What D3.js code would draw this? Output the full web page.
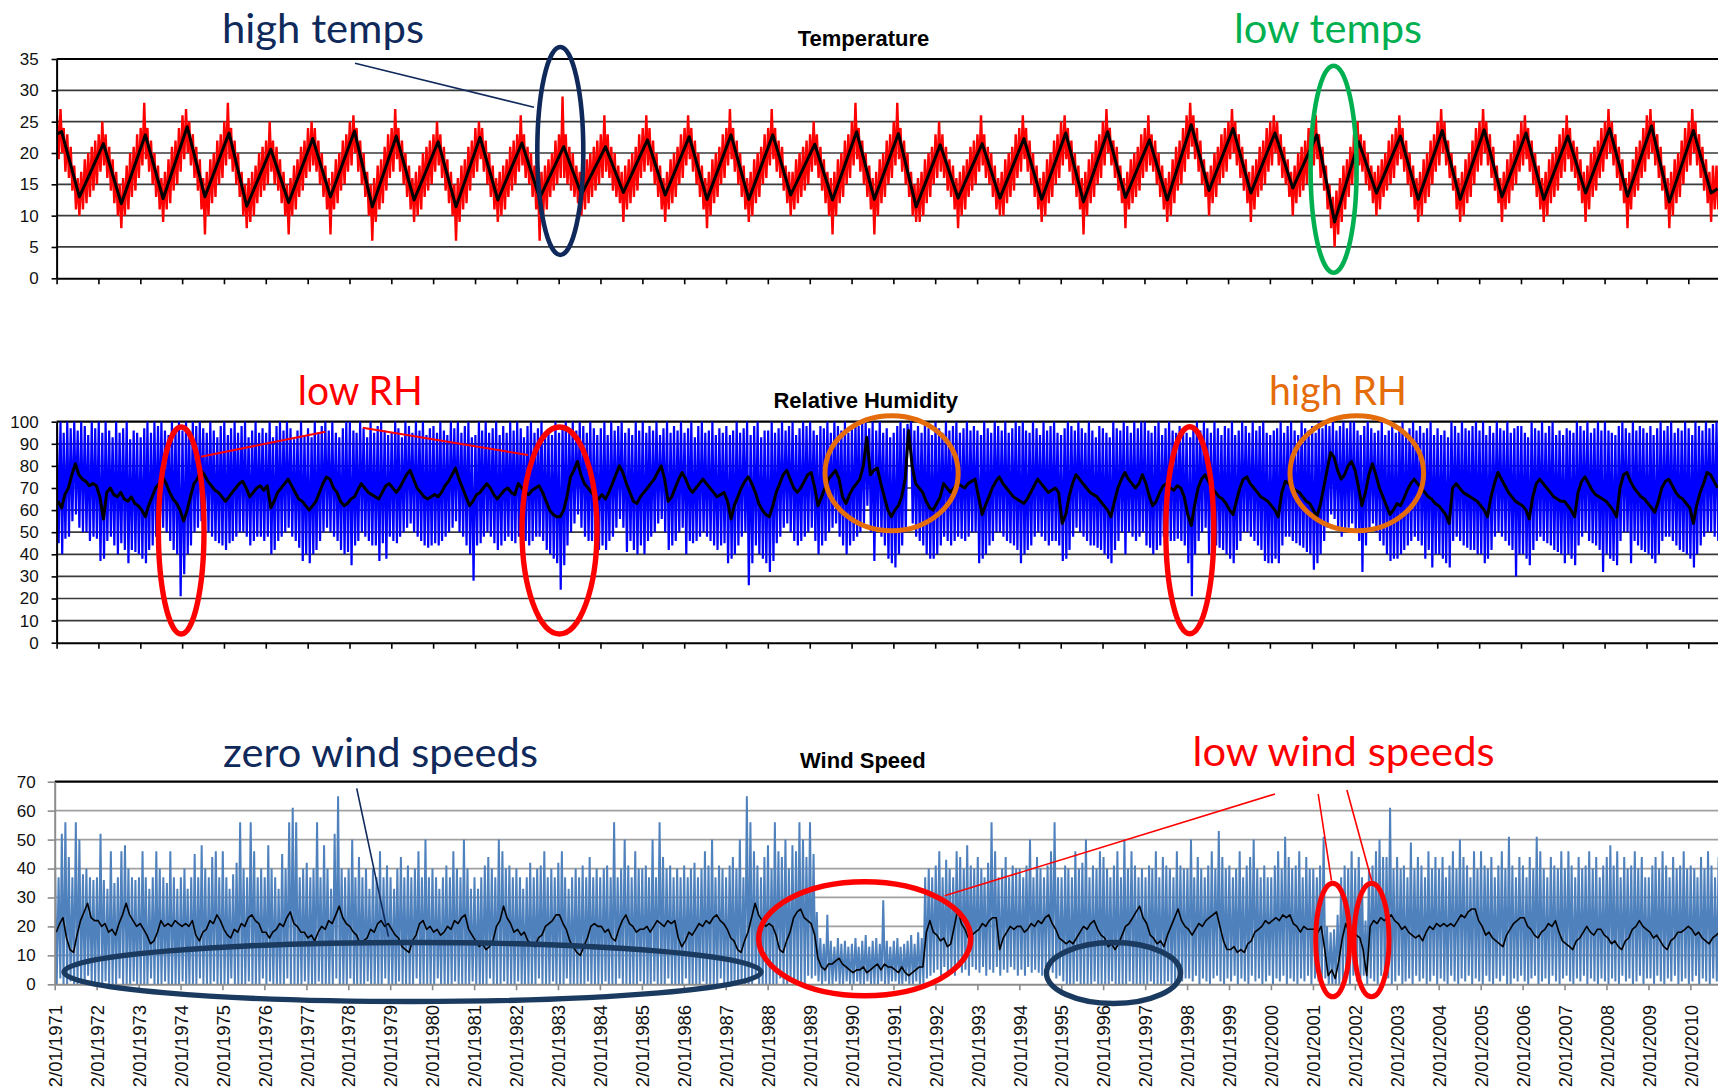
<!DOCTYPE html>
<html>
<head>
<meta charset="utf-8">
<script src="https://cdn.jsdelivr.net/npm/d3@7/dist/d3.min.js"></script>
<style>
html,body{margin:0;padding:0;background:#fff;overflow:hidden}
svg{display:block}
</style>
</head>
<body>
<svg id="chart" width="1718" height="1090"></svg>
<script>
// ================= DATA =================
const tickLabels = ["2/01/1971","2/01/1972","2/01/1973","2/01/1974","2/01/1975","2/01/1976","2/01/1977","2/01/1978","2/01/1979","2/01/1980",
"2/01/1981","2/01/1982","2/01/1983","2/01/1984","2/01/1985","2/01/1986","2/01/1987","2/01/1988","2/01/1989","2/01/1990",
"2/01/1991","2/01/1992","2/01/1993","2/01/1994","2/01/1995","2/01/1996","2/01/1997","2/01/1998","2/01/1999","2/01/2000",
"2/01/2001","2/01/2002","2/01/2003","2/01/2004","2/01/2005","2/01/2006","2/01/2007","2/01/2008","2/01/2009","2/01/2010"];
const tempTicks = [0,5,10,15,20,25,30,35];
const rhTicks = [0,10,20,30,40,50,60,70,80,90,100];
const windTicks = [0,10,20,30,40,50,60,70];

// Temperature 30-day mean: start value, yearly summer peak (Feb), winter trough (Jul), end value
const tempStart = 23.0, tempEnd = 14.3;
const tempPeak = [23.4,21.5,22.9,24.2,23.2,20.6,22.3,23.5,22.7,21.8,22.5,21.6,21.0,21.0,22.1,22.6,22.9,22.9,21.4,23.4,
23.1,21.3,21.5,22.3,23.2,23.4,22.1,24.5,23.9,23.2,22.9,21.8,22.7,23.6,23.7,23.2,22.7,23.9,24.3,23.6];
const tempTrough = [13.0,11.9,12.7,13.0,11.5,12.1,13.0,11.4,12.5,11.4,12.5,12.8,13.4,13.7,13.3,12.6,12.6,13.3,12.5,12.6,
11.4,12.8,12.8,12.6,12.2,12.9,12.5,14.0,13.6,14.4,9.0,13.6,12.6,12.6,13.0,12.6,13.6,13.1,12.2,13.6];
// Daily temperature: monthly high / low (Jan 1971 .. Sep 2010)
const tempHi = [
26,27,24,23,21,18,16,17,19,20,21,22, 23,25,23,21,19,17,15,16,18,20,21,23, 24,28,24,22,20,18,16,17,19,21,22,24,
26,27,25,23,21,19,16,17,19,20,22,23, 25,28,24,22,20,17,15,16,17,18,20,21, 22,25,22,21,19,17,15,16,18,19,21,22,
24,25,24,22,20,18,16,17,19,20,22,23, 25,26,24,22,20,17,15,16,18,19,21,23, 24,27,24,22,20,18,16,17,18,20,21,22,
23,25,23,21,19,17,15,16,18,19,21,22, 24,25,24,22,20,18,16,17,18,19,21,22, 23,26,23,21,20,18,16,17,18,19,20,22,
23,29,23,21,20,18,17,17,19,20,21,22, 23,26,23,21,20,18,17,18,19,20,21,23, 24,26,24,22,20,18,16,17,19,20,21,23,
24,26,24,22,20,18,16,17,19,20,21,23, 24,27,24,22,20,18,16,17,19,20,21,23, 24,27,24,22,21,18,17,17,19,20,21,22,
23,25,23,21,19,17,16,17,19,20,22,23, 25,28,24,22,20,18,16,17,19,20,22,23, 25,28,24,22,20,17,15,16,17,19,20,21,
23,25,23,21,19,18,16,17,18,19,21,22, 23,26,23,21,20,18,16,17,19,20,21,23, 24,26,24,22,20,18,16,17,19,20,22,23,
25,26,24,22,20,18,16,17,19,20,22,23, 25,27,24,22,21,18,16,17,19,20,21,23, 24,26,23,22,20,18,16,17,19,21,22,24,
26,28,26,24,22,19,17,18,20,21,23,24, 25,27,25,23,21,19,17,18,19,21,22,24, 25,26,25,23,21,19,17,18,20,21,22,24,
24,26,23,21,18,15,13,14,16,18,19,21, 23,25,23,22,20,18,17,18,19,20,22,23, 24,26,24,22,20,18,16,17,19,20,22,23,
25,27,25,22,20,18,16,17,19,20,22,24, 25,27,25,23,21,18,16,17,19,20,22,23, 25,26,24,22,20,18,16,17,19,20,21,23,
24,26,24,22,21,19,17,18,20,21,22,24, 25,27,25,23,21,19,16,17,19,21,22,24, 26,27,25,23,21,18,16,17,19,20,22,24,
25,27,25,23,21,19,17,18,18];
const tempLo = [
19,20,17,16,14,11,10,11,12,13,14,15, 17,18,16,14,12,10,8,10,11,13,14,16, 18,19,17,15,13,11,9,11,12,14,15,17,
19,20,18,16,14,11,7,10,12,13,15,16, 18,19,17,15,13,10,8,9,10,12,13,14, 15,17,15,14,12,10,7,10,11,13,14,16,
17,18,17,15,13,11,7,11,12,14,15,17, 18,20,17,15,13,10,6,9,11,12,14,16, 17,19,17,15,13,11,9,10,11,13,14,15,
17,18,16,14,12,10,6,9,11,12,14,16, 17,19,17,15,13,11,9,10,11,13,14,15, 17,18,16,15,13,11,6,10,11,13,14,15,
16,16,15,14,13,12,10,11,12,13,14,15, 16,17,16,14,13,12,9,11,12,13,14,16, 17,18,17,15,13,11,9,11,12,13,15,16,
18,19,17,15,13,11,8,10,12,13,15,16, 18,19,17,15,13,11,9,10,12,13,15,16, 18,19,17,16,14,12,10,11,12,13,14,15,
17,18,16,14,12,10,7,10,12,13,15,16, 18,19,17,15,13,11,7,10,12,13,15,16, 18,19,17,15,13,10,9,9,10,12,13,15,
16,17,16,14,13,11,8,10,11,13,14,15, 17,18,16,15,13,11,10,10,12,13,14,16, 17,19,17,15,13,11,9,10,12,13,15,16,
18,19,17,15,13,11,7,10,12,13,15,16, 18,20,18,16,14,12,8,11,12,13,14,16, 17,18,17,15,13,11,9,10,12,14,15,17,
19,21,19,17,15,13,10,12,13,15,16,17, 19,20,18,16,14,12,9,11,13,14,15,17, 18,20,18,16,15,13,10,12,13,14,15,17,
18,19,16,14,11,8,5,7,9,11,13,15, 16,18,17,15,14,12,10,11,13,14,15,16, 18,19,17,15,13,11,9,10,12,13,15,17,
18,20,18,16,14,11,9,10,12,13,15,17, 18,20,18,16,14,12,9,11,12,14,15,17, 18,19,17,15,13,11,9,10,12,13,14,16,
17,19,17,16,14,12,9,11,13,14,16,17, 19,20,18,16,14,12,8,11,13,14,16,17, 19,20,18,16,14,11,8,10,12,13,15,17,
18,20,18,16,14,12,9,11,11];

// Relative humidity: monthly 30-day mean, monthly high, monthly low
const rhMean = [
64,61,67,70,76,81,76,74,73,71,72,71, 66,56,68,70,67,66,68,65,64,66,63,62, 60,57,62,66,70,72,75,72,68,65,63,60,
55,60,66,72,74,78,76,73,71,69,68,66, 64,66,68,70,72,73,70,66,68,70,71,69, 71,61,64,68,70,72,74,71,68,65,64,62,
60,62,64,68,72,75,74,70,68,64,62,63, 65,66,69,72,70,68,67,66,65,68,71,72, 70,68,70,73,76,78,74,70,68,66,65,66,
67,66,68,71,73,76,79,74,70,66,62,64, 67,68,70,72,70,67,65,67,69,70,68,67, 72,70,68,67,69,70,71,68,64,60,58,57,
57,60,66,75,78,82,76,72,70,68,66,65, 67,65,68,72,76,80,77,72,68,64,63,66, 68,70,72,74,77,80,74,64,66,70,74,77,
74,70,68,70,72,74,72,70,68,66,67,68, 64,56,62,66,70,73,75,72,68,63,60,58, 57,62,68,72,76,78,74,70,68,70,73,76,
77,70,62,66,70,74,76,78,74,66,63,67, 70,72,74,80,93,76,78,79,72,66,60,57, 60,62,66,74,96,80,72,70,68,64,61,60,
63,66,72,70,68,70,72,71,70,72,73,74, 66,58,62,66,70,73,75,72,70,68,66,65, 64,63,65,68,71,74,72,70,68,69,70,68,
54,58,66,72,76,74,72,70,68,67,66,64, 62,60,57,64,70,74,77,74,72,70,72,76, 72,66,62,64,68,71,72,70,69,71,70,66,
58,53,62,70,74,76,73,70,68,66,65,63, 60,58,64,70,74,75,72,70,68,66,65,64, 62,60,57,68,73,72,70,69,68,66,64,63,
60,57,62,70,78,86,84,78,74,76,80,82, 78,70,62,68,76,81,76,70,66,62,58,60, 63,62,65,69,72,74,72,70,68,66,65,63,
62,60,58,54,70,72,70,68,67,66,65,64, 62,60,57,66,72,77,74,71,68,66,64,63, 62,60,56,66,72,74,72,70,68,66,65,64,
64,62,60,57,68,73,75,72,69,67,66,65, 64,62,60,57,70,76,77,73,70,68,66,65, 63,61,59,64,70,73,74,71,68,66,65,63,
61,54,62,68,72,77,76,73,70];
const rhHi = [
98,100,95,100,97,100,96,100,98,94,100,97, 100,95,100,96,93,100,95,97,100,92,96,95, 93,97,100,95,100,98,100,96,94,100,97,100,
96,100,95,100,98,100,97,95,100,96,93,98, 100,94,97,100,95,98,100,93,96,100,95,97, 95,100,93,98,100,96,100,97,92,96,100,94,
97,93,100,95,98,100,96,100,95,93,97,100, 100,96,95,100,97,93,100,95,98,100,96,94, 95,100,97,93,100,98,95,100,96,100,94,97,
98,95,100,96,94,100,97,100,95,98,100,93, 94,100,96,100,95,97,100,94,98,95,100,96, 100,97,93,98,100,95,97,100,93,96,94,100,
95,98,100,97,100,96,100,98,95,100,97,94, 97,100,94,100,96,98,100,95,97,94,100,96, 100,95,98,96,100,94,97,100,95,98,96,100,
95,97,100,93,98,100,95,96,100,94,97,95, 98,94,96,100,95,97,100,94,98,100,93,96, 96,100,95,97,100,96,98,100,94,97,100,98,
100,96,94,98,97,100,95,100,98,96,100,95, 97,100,98,100,100,97,100,96,100,95,97,93, 95,98,100,97,99,100,96,98,95,100,97,94,
100,97,95,100,96,98,100,95,97,100,96,98, 96,94,100,97,95,100,98,96,100,95,97,100, 98,100,96,95,100,97,94,100,96,98,100,95,
94,97,100,98,96,100,97,95,100,96,93,98, 97,95,93,100,97,96,100,98,95,100,97,100, 100,96,95,98,100,94,97,100,96,95,98,96,
95,93,98,100,96,100,97,95,100,97,94,98, 97,100,94,96,100,98,95,100,96,98,100,95, 94,96,97,100,95,98,100,96,94,100,97,96,
98,95,100,97,100,98,100,96,98,100,97,100, 100,96,94,98,100,97,95,96,100,94,96,98, 95,98,100,95,97,100,96,98,95,97,100,94,
97,94,96,93,100,98,95,100,97,96,98,100, 96,100,94,98,95,100,97,96,100,95,97,98, 98,95,93,100,97,96,100,95,98,100,94,96,
94,97,96,95,100,98,96,100,95,97,100,96, 100,96,95,94,98,100,97,95,100,96,98,97, 95,98,94,97,100,96,98,100,95,97,96,100,
97,94,100,98,96,100,97,99,100];
const rhLo = [
45,40,47,48,55,58,52,50,50,46,48,47, 37,38,46,48,44,40,45,42,36,42,41,40, 38,36,42,44,48,50,52,50,46,42,40,21,
31,40,44,50,52,55,53,50,48,46,45,44, 42,45,46,48,50,50,48,44,46,48,48,46, 48,40,42,46,48,50,52,48,46,43,37,40,
36,40,42,46,50,52,50,48,46,42,40,41, 35,44,46,50,48,46,44,44,37,45,38,48, 46,45,48,50,52,54,50,48,46,44,43,44,
45,44,46,48,50,52,55,50,48,44,40,28, 44,45,48,50,48,45,42,44,46,48,46,45, 48,40,46,44,46,48,48,46,42,40,38,36,
24,35,44,50,54,58,52,48,46,46,44,42, 44,42,46,48,52,56,52,41,46,42,40,44, 40,46,48,50,54,56,50,42,44,46,50,52,
40,46,45,46,48,50,48,46,44,42,44,45, 36,38,40,44,48,50,26,36,44,40,38,36, 32,37,45,48,52,54,50,46,44,46,48,50,
52,46,40,44,46,50,52,54,48,44,40,44, 46,48,50,54,62,50,37,52,48,44,38,36, 34,40,44,50,88,54,48,46,44,40,38,38,
40,44,48,46,44,46,48,47,46,48,50,50, 36,38,40,44,46,50,50,48,46,45,44,42, 36,40,42,44,48,50,48,46,44,46,46,44,
37,38,42,48,52,50,48,46,44,44,43,42, 40,38,36,42,46,50,40,50,48,46,48,50, 44,43,40,42,44,48,48,46,46,47,46,44,
36,21,40,46,50,52,40,46,44,43,42,40, 38,36,42,46,50,50,48,46,44,42,37,36, 36,38,36,44,48,48,46,45,44,43,41,40,
33,36,40,46,52,58,56,52,48,50,52,54, 50,46,32,44,50,54,50,46,44,40,37,38, 38,40,42,44,46,48,46,44,38,42,34,40,
40,38,36,34,46,48,46,44,43,42,42,40, 40,36,38,42,48,50,48,46,44,42,30,40, 40,38,35,42,46,48,46,45,44,42,41,40,
36,40,38,35,44,48,50,46,45,44,42,32, 40,38,37,35,46,50,50,36,46,44,42,41, 40,38,36,40,46,48,48,46,44,42,41,40,
38,34,40,44,48,50,50,48,46];

// Wind speed: monthly 30-day mean, monthly high, monthly low
const windMean = [
18,21,23,16,12,11,17,22,25,28,23,22, 22,20,21,18,19,17,21,24,28,24,22,20, 21,19,17,14,15,18,22,20,21,20,22,21,
20,21,20,22,17,15,18,19,22,21,24,22, 19,17,16,19,18,21,20,23,24,22,21,18, 18,16,18,19,21,20,23,25,21,20,18,18,
16,17,15,18,20,19,22,21,24,27,23,21, 20,18,17,14,15,16,19,18,21,22,20,21, 19,17,16,13,12,11,15,17,21,22,19,20,
18,19,17,18,20,19,22,21,23,24,19,17, 15,13,14,12,13,15,20,22,27,23,21,18, 19,17,18,15,14,13,16,17,20,21,22,24,
24,21,19,15,13,11,10,13,16,20,21,20, 20,18,19,16,15,19,22,24,21,20,18,19, 19,20,18,20,22,21,20,22,21,22,16,13,
15,18,17,19,21,20,22,21,23,24,22,21, 19,16,15,12,11,15,18,23,28,24,22,20, 21,20,17,12,11,15,18,23,25,26,23,22,
21,17,9,6,5,7,7,8,9,7,6,5, 4,5,5,6,4,5,6,7,5,7,6,6, 5,4,6,4,3,4,5,6,6,18,22,18,
17,15,16,13,14,20,26,21,19,16,17,18, 19,21,20,22,23,23,12,16,18,20,19,20, 20,18,19,21,20,22,21,23,24,21,19,16,
15,14,15,14,16,18,20,19,21,22,19,17, 16,13,14,12,14,17,20,21,23,25,27,23, 21,17,16,14,15,13,17,20,23,26,22,20,
19,17,19,21,20,22,23,24,25,20,15,12, 12,13,11,12,11,14,15,18,19,20,22,21, 22,23,22,24,23,24,21,20,18,20,19,19,
19,18,20,12,3,5,2,8,16,21,18,18, 17,16,12,3,20,22,21,23,22,23,24,22, 21,19,20,18,17,16,17,15,18,20,19,21,
20,21,20,21,20,22,24,23,25,26,26,22, 20,17,18,16,15,14,13,17,19,21,22,23, 23,20,19,17,16,18,19,21,20,22,18,15,
14,13,12,15,16,18,20,18,17,19,19,17, 16,14,15,13,12,15,16,19,20,22,20,19, 18,16,17,15,13,12,15,16,18,18,19,20,
19,17,18,16,15,14,16,17,18];
const windHi = [
41,37,52,56,44,37,56,50,38,40,37,36, 37,52,36,33,46,35,37,46,48,40,37,36, 37,46,37,33,37,46,40,37,35,46,37,33,
37,40,33,37,45,37,48,40,37,44,46,37, 46,37,33,38,42,56,40,37,56,46,37,40, 37,48,40,37,33,45,40,56,61,56,37,40,
42,37,40,56,37,48,40,33,52,65,40,37, 40,50,37,44,37,40,33,40,37,46,37,41, 37,33,40,44,37,41,37,40,46,37,50,37,
40,37,33,37,41,37,46,40,37,50,40,33, 37,33,37,41,44,40,37,50,46,40,41,37, 40,37,33,37,42,37,40,41,46,37,40,37,
42,46,37,33,37,40,37,41,37,44,37,40, 37,40,41,37,56,37,40,50,41,37,46,40, 40,41,37,50,37,56,44,40,41,37,40,37,
41,37,40,42,37,40,46,41,50,37,41,40, 37,41,44,40,50,37,65,56,46,41,37,44, 48,40,56,46,44,50,40,48,46,56,50,44,
56,45,25,16,14,24,15,13,16,14,15,13, 14,16,13,15,17,13,15,16,14,29,15,13, 15,16,13,14,15,17,14,18,16,37,40,37,
41,46,37,43,40,37,46,44,40,48,41,40, 44,40,37,42,56,46,37,40,44,37,41,40, 40,37,41,50,37,44,40,37,41,46,56,37,
37,41,40,37,46,40,42,50,37,41,40,46, 44,40,37,41,46,37,50,40,46,41,37,40, 37,41,40,46,37,44,41,40,37,46,41,40,
40,50,37,44,40,37,41,46,40,53,44,40, 41,37,40,46,37,41,44,50,40,37,41,37, 37,41,46,40,51,44,40,41,46,37,44,40,
40,37,41,51,20,18,19,24,37,41,40,46, 40,44,37,22,40,41,46,50,44,44,61,40, 44,40,41,37,49,40,44,41,37,46,40,44,
40,44,37,41,46,40,50,44,41,37,46,40, 46,41,40,44,37,41,46,40,51,41,37,44, 41,37,44,40,51,46,40,37,44,41,40,46,
40,46,41,37,44,40,41,46,40,44,37,41, 44,48,41,46,37,44,40,41,46,40,44,37, 37,41,44,40,46,41,37,44,40,41,46,40,
41,40,37,44,40,46,41,37,44];
const windLo = [
0,2,0,0,1,0,0,0,0,3,0,0, 0,0,1,0,0,0,2,0,0,0,1,0, 0,0,0,2,0,0,0,1,0,0,0,0,
1,0,0,0,0,2,0,0,0,1,0,0, 0,0,2,0,0,0,0,1,0,0,0,2, 0,1,0,0,0,0,2,0,0,0,0,1,
0,0,0,1,0,0,0,0,2,0,0,0, 2,0,0,0,0,1,0,0,0,0,2,0, 0,0,1,0,0,0,0,2,0,0,0,0,
0,2,0,0,0,0,1,0,0,0,0,1, 0,0,0,0,2,0,0,0,1,0,0,0, 1,0,0,0,0,0,2,0,0,0,1,0,
0,0,2,0,0,0,0,0,1,0,0,0, 0,1,0,0,0,2,0,0,0,0,0,1, 0,0,0,1,0,0,0,2,0,0,0,0,
2,0,0,0,0,1,0,0,0,0,2,0, 0,0,1,0,0,0,0,0,2,0,0,0, 0,0,0,2,0,0,1,0,0,0,0,3,
2,3,1,0,1,0,0,1,0,0,1,0, 0,1,0,0,1,0,0,0,1,0,0,1, 1,0,0,1,0,0,1,0,0,2,3,4,
5,3,6,4,5,3,6,4,5,3,6,5, 4,6,3,5,4,6,3,5,4,6,5,3, 5,3,6,4,5,4,3,6,5,4,2,3,
1,0,0,0,1,0,0,0,0,1,0,0, 0,0,1,0,0,0,0,1,0,0,0,0, 0,1,0,0,0,0,1,0,0,2,1,2,
2,1,3,0,2,1,0,2,3,1,0,2, 1,3,0,2,1,0,3,1,2,0,1,3, 0,2,1,3,0,2,1,0,2,1,3,0,
2,1,0,2,0,0,0,0,1,2,0,3, 1,2,3,0,2,1,0,3,1,2,0,1, 3,0,1,2,0,3,1,2,0,1,3,0,
2,1,0,3,1,0,2,1,3,0,2,1, 0,3,1,0,2,1,3,0,0,2,1,3, 1,0,2,3,0,1,2,0,3,1,0,2,
3,1,0,2,1,3,0,2,1,0,2,1, 0,2,1,0,3,1,2,0,1,3,0,2, 2,0,3,1,0,2,1,3,0,1,2,0,
1,3,0,2,1,0,2,1,3];

// ================= DRAWING =================
const RIGHT = 1718;
const svg = d3.select("#chart");
const FONT = "'Liberation Sans', Arial, Helvetica, sans-serif";
const NOTE_FONT = "Lato, 'Open Sans', sans-serif";

const tickDates = tickLabels.map(s => { const p = s.split("/"); return new Date(+p[2], +p[1]-1, +p[0]); });
const t0 = tickDates[0], t1 = new Date(2010, 8, 18);
const years = tickDates.map(d => d.getFullYear());

const xT = d3.scaleTime().domain([t0, t1]).range([56.6, RIGHT]);
const xW = d3.scaleTime().domain([t0, t1]).range([54.7, 1720.1]);
const yT = d3.scaleLinear().domain([0, 35]).range([278.3, 59]);
const yR = d3.scaleLinear().domain([0, 100]).range([642.7, 421.7]);
const yW = d3.scaleLinear().domain([0, 70]).range([984.3, 781.7]);

const zig = (hi, lo) => hi.flatMap((h, i) => [[new Date(1971, i, 5), h], [new Date(1971, i, 20), lo[i]]]);
const monthly = arr => arr.map((v, i) => [new Date(1971, i, 15), v]);

function panel(id, x, y, ticks, o) {
  const g = svg.append("g").attr("id", id);
  const x0 = x.range()[0];
  const top = ticks[ticks.length - 1];
  g.append("g").selectAll("line").data(ticks.filter(v => v > 0)).join("line")
    .attr("x1", x0).attr("x2", RIGHT).attr("y1", d => y(d)).attr("y2", d => y(d))
    .attr("stroke", d => d === top ? "#000" : o.grid)
    .attr("stroke-width", d => d === top ? 2.2 : o.gridW);
  const [yb, yt] = y.range();
  svg.append("clipPath").attr("id", id + "-clip").append("rect")
    .attr("x", x0).attr("y", yt - 3).attr("width", RIGHT - x0).attr("height", yb - yt + 3);
  const plot = g.append("g").attr("clip-path", `url(#${id}-clip)`);
  const line = d3.line().x(d => x(d[0])).y(d => y(d[1]));
  plot.append("path").attr("d", line(zig(o.hi, o.lo))).attr("fill", "none")
    .attr("stroke", o.band).attr("stroke-width", o.bandW).attr("stroke-linejoin", "bevel");
  plot.append("path").attr("d", line(o.mean)).attr("fill", "none")
    .attr("stroke", "#000").attr("stroke-width", o.meanW).attr("stroke-linejoin", "round");
  const ya = g.append("g").attr("transform", `translate(${x0},0)`)
    .call(d3.axisLeft(y).tickValues(ticks).tickSize(o.ytick).tickPadding(o.ypad).tickSizeOuter(0));
  ya.select(".domain").attr("stroke", o.axis).attr("stroke-width", 2);
  ya.selectAll(".tick line").attr("stroke", o.axis).attr("stroke-width", 1.6);
  ya.selectAll(".tick text").attr("fill", "#111").style("font-family", FONT).style("font-size", o.yfs + "px");
  const xa = g.append("g").attr("transform", `translate(0,${yb})`)
    .call(d3.axisBottom(x).tickValues(tickDates).tickSize(6).tickSizeOuter(0)
      .tickFormat(o.labels ? ((d, i) => tickLabels[i]) : ""));
  xa.select(".domain").attr("stroke", o.axis).attr("stroke-width", 2);
  xa.selectAll(".tick line").attr("stroke", o.axis).attr("stroke-width", 1.6);
  if (o.labels) {
    xa.selectAll(".tick text").attr("transform", "rotate(-90)")
      .attr("x", -20.7).attr("y", 0).attr("dy", "0.36em")
      .style("text-anchor", "end").attr("fill", "#111")
      .style("font-family", FONT).style("font-size", "18.5px");
  }
  svg.append("text").attr("x", o.titleX).attr("y", o.titleY).attr("text-anchor", "middle")
    .style("font-family", FONT).style("font-weight", "bold").style("font-size", "22px")
    .attr("fill", "#000").text(o.title);
}

const tempMean = [[t0, tempStart]]
  .concat(years.flatMap((yr, i) => [[new Date(yr, 1, 15), tempPeak[i]], [new Date(yr, 6, 20), tempTrough[i]]]))
  .concat([[new Date(2010, 8, 14), tempEnd]]);

panel("temp", xT, yT, tempTicks, {
  hi: tempHi, lo: tempLo, mean: tempMean, band: "#ff0000", bandW: 2.4, meanW: 3,
  grid: "#3a3a3a", gridW: 1.7, axis: "#000", ytick: 5, ypad: 13, yfs: 17,
  title: "Temperature", titleX: 863.5, titleY: 46, labels: false
});
panel("rh", xT, yR, rhTicks, {
  hi: rhHi, lo: rhLo, mean: monthly(rhMean), band: "#0000ff", bandW: 2.2, meanW: 3,
  grid: "#3a3a3a", gridW: 1.7, axis: "#000", ytick: 5, ypad: 13, yfs: 17,
  title: "Relative Humidity", titleX: 865.8, titleY: 408.3, labels: false
});
panel("wind", xW, yW, windTicks, {
  hi: windHi, lo: windLo, mean: monthly(windMean), band: "#4f81bd", bandW: 2.0, meanW: 1.6,
  grid: "#a0a0a0", gridW: 1.8, axis: "#8c8c8c", ytick: 7, ypad: 12, yfs: 17,
  title: "Wind Speed", titleX: 862.9, titleY: 767.7, labels: true
});

// ================= ANNOTATIONS =================
const NAVY = "#10295b", NAVY2 = "#1b3a60", GREEN = "#00b050", RED = "#ff0000", ORANGE = "#e46c0a";
const rings = [
  {cx: 560.3, cy: 151, rx: 23, ry: 104, c: NAVY, w: 4.6},
  {cx: 1333.6, cy: 169.2, rx: 23, ry: 103.5, c: GREEN, w: 4.6},
  {cx: 181.2, cy: 530.5, rx: 22.8, ry: 103.5, c: RED, w: 5.4},
  {cx: 559.5, cy: 530.5, rx: 37.5, ry: 103.5, c: RED, w: 5.4},
  {cx: 1189.8, cy: 530.3, rx: 24, ry: 103.5, c: RED, w: 5.4},
  {cx: 891.6, cy: 473.3, rx: 66.6, ry: 57.5, c: ORANGE, w: 5},
  {cx: 1356.8, cy: 473.3, rx: 66.8, ry: 57.5, c: ORANGE, w: 5},
  {cx: 412.5, cy: 972, rx: 348.5, ry: 29.5, c: NAVY2, w: 5.4},
  {cx: 1113.5, cy: 973, rx: 67, ry: 30.5, c: NAVY2, w: 5.4},
  {cx: 864.7, cy: 938.7, rx: 106, ry: 57, c: RED, w: 5.4},
  {cx: 1332.7, cy: 940, rx: 17, ry: 56.8, c: RED, w: 5},
  {cx: 1371.5, cy: 940, rx: 17.5, ry: 56.8, c: RED, w: 5}
];
svg.append("g").selectAll("ellipse").data(rings).join("ellipse")
  .attr("cx", d => d.cx).attr("cy", d => d.cy).attr("rx", d => d.rx).attr("ry", d => d.ry)
  .attr("fill", "none").attr("stroke", d => d.c).attr("stroke-width", d => d.w);

const pointers = [
  {x1: 355, y1: 63.3, x2: 534, y2: 107.3, c: NAVY, w: 1.6},
  {x1: 325.3, y1: 431.7, x2: 200.9, y2: 456.7, c: RED, w: 2},
  {x1: 362.8, y1: 427.7, x2: 528.1, y2: 455, c: RED, w: 2},
  {x1: 356.7, y1: 788.3, x2: 388.4, y2: 936.7, c: NAVY, w: 1.6},
  {x1: 944.6, y1: 895.7, x2: 1275, y2: 794, c: RED, w: 1.6},
  {x1: 1318.2, y1: 794, x2: 1331.5, y2: 880.7, c: RED, w: 1.6},
  {x1: 1346.9, y1: 790, x2: 1371.7, y2: 880.7, c: RED, w: 1.6}
];
svg.append("g").selectAll("line").data(pointers).join("line")
  .attr("x1", d => d.x1).attr("y1", d => d.y1).attr("x2", d => d.x2).attr("y2", d => d.y2)
  .attr("stroke", d => d.c).attr("stroke-width", d => d.w);

const notes = [
  {t: "high temps", x: 222, y: 42.7, w: 202, c: NAVY},
  {t: "low temps", x: 1234, y: 42.7, w: 188, c: GREEN},
  {t: "low RH", x: 297.7, y: 405, w: 125, c: RED},
  {t: "high RH", x: 1269, y: 405, w: 138, c: ORANGE},
  {t: "zero wind speeds", x: 223, y: 766.7, w: 315, c: NAVY},
  {t: "low wind speeds", x: 1192.6, y: 766, w: 302, c: RED}
];
svg.append("g").selectAll("text").data(notes).join("text")
  .attr("x", d => d.x).attr("y", d => d.y)
  .attr("textLength", d => d.w).attr("lengthAdjust", "spacingAndGlyphs")
  .style("font-family", NOTE_FONT).style("font-size", "40px")
  .attr("fill", d => d.c).text(d => d.t);
</script>
</body>
</html>
